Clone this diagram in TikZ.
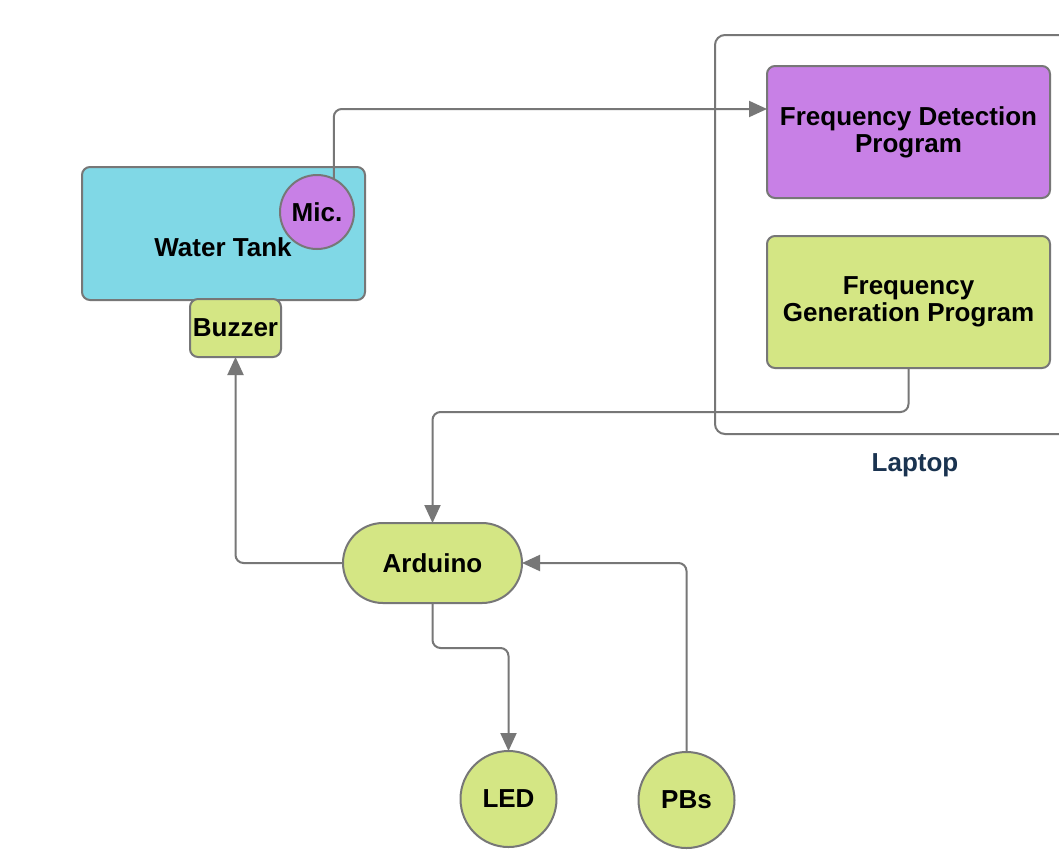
\documentclass[tikz,border=0pt]{standalone}
\usepackage{xcolor}
\usepackage{fontspec}
\setsansfont{Liberation Sans}
\usepackage{tikz}
\usetikzlibrary{arrows.meta}

\begin{document}
\begin{tikzpicture}[x=.5pt,y=-.5pt,
  blockbox/.style={draw={rgb,255:red,119;green,119;blue,119},line width=1pt,rounded corners=4pt,inner sep=0pt,outer sep=0pt,
    text={rgb,255:red,0;green,0;blue,0},align=center,font=\sffamily\bfseries\fontsize{13}{13.5}\selectfont},
  roundbox/.style={blockbox,circle,rounded corners=0pt},
  wire/.style={draw={rgb,255:red,119;green,119;blue,119},line width=1pt,rounded corners=4pt,
    -{Triangle[length=9pt,width=8pt]}}]
\path[use as bounding box] (0,0) rectangle (1059,857);
\path[fill=white,draw=none] (0,0) rectangle (1059,857);
% laptop frame, open on the right edge
\draw[draw={rgb,255:red,119;green,119;blue,119},line width=1pt,rounded corners=5pt] (1070,35) -- (715,35) -- (715,434) -- (1070,434);
\node[inner sep=0pt,text={rgb,255:red,26;green,51;blue,80},font=\sffamily\bfseries\fontsize{13}{13.5}\selectfont] (laptoplabel) at (915,465) {Laptop};
% water tank with microphone and buzzer
\node[blockbox,fill={rgb,255:red,128;green,216;blue,230},minimum width=141.5pt,minimum height=66.5pt] (tank) at (223.5,233.5) {};
\node[inner sep=0pt,font=\sffamily\bfseries\fontsize{13}{13.5}\selectfont] (tanklabel) at (223,247) {Water Tank};
\node[roundbox,fill={rgb,255:red,200;green,128;blue,230},minimum size=37pt] (mic) at (317,212) {Mic.};
\node[blockbox,fill={rgb,255:red,212;green,230;blue,132},minimum width=45.5pt,minimum height=29pt] (buzzer) at (235.5,328) {Buzzer};
% programs on the laptop
\node[blockbox,fill={rgb,255:red,200;green,128;blue,230},minimum width=141.5pt,minimum height=66pt] (detect) at (908.5,132) {Frequency Detection\\Program};
\node[blockbox,fill={rgb,255:red,212;green,230;blue,132},minimum width=141.5pt,minimum height=66pt] (generate) at (908.5,302) {Frequency\\Generation Program};
% board and peripherals
\node[blockbox,fill={rgb,255:red,212;green,230;blue,132},minimum width=89.5pt,minimum height=40pt,rounded corners=20pt] (arduino) at (432.5,563) {Arduino};
\node[roundbox,fill={rgb,255:red,212;green,230;blue,132},minimum size=48pt] (led) at (508.5,799) {LED};
\node[roundbox,fill={rgb,255:red,212;green,230;blue,132},minimum size=48pt] (pbs) at (686.5,800) {PBs};
% connections
\draw[wire] (mic.63) |- ([yshift=11.5pt]detect.west);
\draw[wire] (generate.south) -- ++(0,44) -| (arduino.north);
\draw[wire] (arduino.west) -| (buzzer.south);
\draw[wire] (arduino.south) -- ++(0,45) -| (led.north);
\draw[wire] (pbs.north) |- (arduino.east);
\end{tikzpicture}
\end{document}
